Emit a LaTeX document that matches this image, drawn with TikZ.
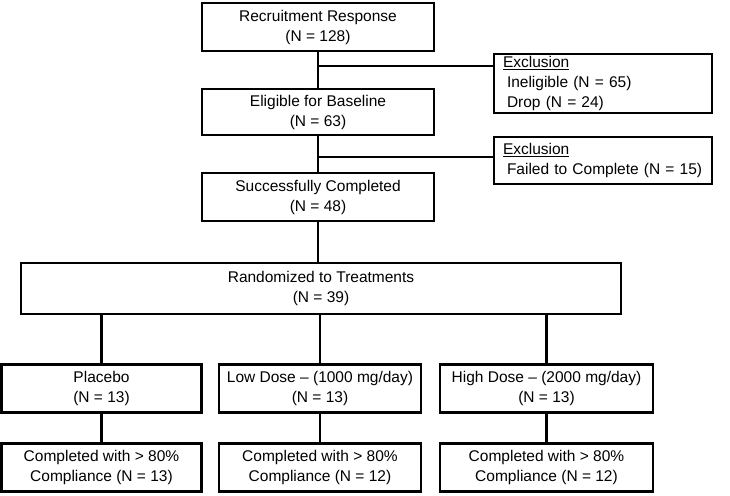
\documentclass[tikz,border=0pt]{standalone}
\usepackage{fontspec}
\setmainfont{Liberation Sans}
\usetikzlibrary{positioning,calc}

\begin{document}
\begin{tikzpicture}[x=1pt,y=-1pt,
    box/.style={draw, line width=2.2pt, align=center, inner sep=2pt, minimum height=48pt,
      font=\fontsize{15.5}{20}\selectfont},
    exbox/.style={draw, line width=2.2pt, align=left, text width=200pt, inner xsep=9pt,
      inner ysep=2pt, font=\fontsize{15.5}{20}\selectfont},
    link/.style={line width=2.2pt}]
    \useasboundingbox (0,0) rectangle (730,495);
    % screening column
    \node[box, minimum width=232pt] (recruit) at (318,27) {Recruitment Response\\(N = 128)};
    \node[box, minimum width=232pt, minimum height=46pt] (elig) at (318,112) {Eligible for Baseline\\(N = 63)};
    \node[box, minimum width=232pt] (succ) at (318,197) {Successfully Completed\\(N = 48)};
    \node[box, minimum width=600pt, minimum height=51pt] (rand) at (321,288.5) {Randomized to Treatments\\(N = 39)};
    % exclusions
    \node[exbox, minimum height=59pt] (excl1) at (603,83.5)
      {\underline{Exclusion}\\\hspace*{4pt}Ineligible (N = 65)\\\hspace*{4pt}Drop (N = 24)};
    \node[exbox, minimum height=47pt] (excl2) at (603,160.5)
      {\underline{Exclusion}\\\hspace*{4pt}Failed to Complete (N = 15)};
    % treatment arms
    \node[box, minimum width=200pt] (plac) at (101.5,388.5) {Placebo\\(N = 13)};
    \node[box, minimum width=202pt] (low) at (320,388.5) {Low Dose \textendash{} (1000 mg/day)\\(N = 13)};
    \node[box, minimum width=213pt] (high) at (546.5,388.5) {High Dose \textendash{} (2000 mg/day)\\(N = 13)};
    \node[box, minimum width=200pt] (placdone) at (101.5,467.5) {Completed with > 80\%\\Compliance (N = 13)};
    \node[box, minimum width=202pt] (lowdone) at (320,467.5) {Completed with > 80\%\\Compliance (N = 12)};
    \node[box, minimum width=213pt] (highdone) at (546.5,467.5) {Completed with > 80\%\\Compliance (N = 12)};

    \draw[link] (recruit) -- (elig);
    \draw[link] (elig) -- (succ);
    \draw[link] (succ.south) -- (succ.south |- rand.north);
    \coordinate (split1) at (318,66);
    \coordinate (split2) at (318,157);
    \draw[link] (split1) -- (split1 -| excl1.west);
    \draw[link] (split2) -- (split2 -| excl2.west);
    \foreach \arm in {plac,low,high} {
      \draw[link] (\arm.north |- rand.south) -- (\arm.north);
      \draw[link] (\arm) -- (\arm done);
    }
\end{tikzpicture}
\end{document}
